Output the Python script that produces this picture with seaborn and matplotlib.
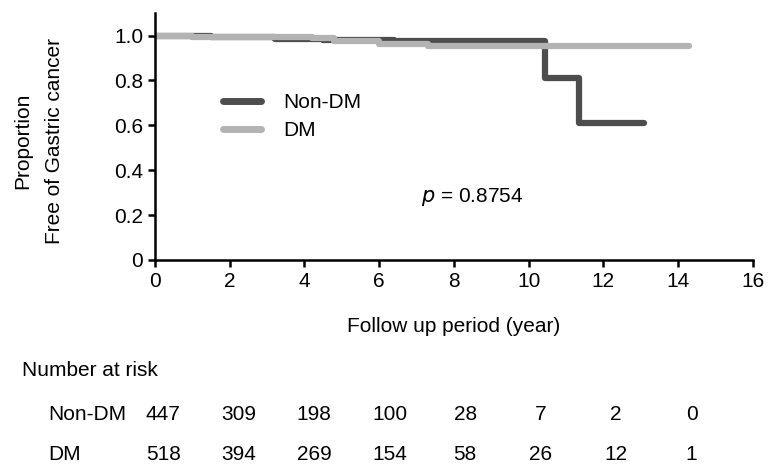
import matplotlib
matplotlib.use('Agg')
import matplotlib.pyplot as plt
import matplotlib.transforms as mtransforms
from matplotlib.lines import Line2D
import seaborn as sns
import pandas as pd

# Kaplan-Meier step curves
nondm_time = [0, 1.5, 3.2, 4.5, 6.4, 10.45, 11.35, 13.1]
nondm_surv = [1.0, 0.993, 0.985, 0.980, 0.974, 0.81, 0.61, 0.61]
dm_time = [0, 1.0, 4.2, 4.8, 6.0, 7.3, 14.3]
dm_surv = [1.0, 0.995, 0.99, 0.975, 0.964, 0.955, 0.955]

risk_times = [0, 2, 4, 6, 8, 10, 12, 14]
risk_nondm = [447, 309, 198, 100, 28, 7, 2, 0]
risk_dm = [518, 394, 269, 154, 58, 26, 12, 1]

x_ticks = [0, 2, 4, 6, 8, 10, 12, 14, 16]
y_ticks = [0, 0.2, 0.4, 0.6, 0.8, 1.0]
y_ticklabels = ['0', '0.2', '0.4', '0.6', '0.8', '1.0']

sns.set_style('ticks')
plt.rcParams['font.family'] = ['Liberation Sans', 'DejaVu Sans']
plt.rcParams['text.color'] = 'black'
plt.rcParams['axes.labelcolor'] = 'black'
plt.rcParams['xtick.color'] = 'black'
plt.rcParams['ytick.color'] = 'black'

FS = 15

df = pd.concat([
    pd.DataFrame({'time': nondm_time, 'surv': nondm_surv, 'group': 'Non-DM'}),
    pd.DataFrame({'time': dm_time, 'surv': dm_surv, 'group': 'DM'}),
])

fig = plt.figure(figsize=(7.69, 4.65), dpi=100)
ax = fig.add_axes([0.2016, 0.4409, 0.7774, 0.531])

palette = {'Non-DM': '#4d4d4d', 'DM': '#b3b3b3'}
sns.lineplot(data=df, x='time', y='surv', hue='group', palette=palette,
             drawstyle='steps-post', linewidth=4.5, estimator=None,
             sort=False, ax=ax, legend=False)

ax.set_xlim(0, 16)
ax.set_ylim(0, 1.1)
ax.set_xticks(x_ticks)
ax.set_yticks(y_ticks)
ax.set_yticklabels(y_ticklabels)
ax.tick_params(axis='both', labelsize=FS, width=1.8, length=5, color='black')
for side in ['left', 'bottom']:
    ax.spines[side].set_linewidth(1.8)
    ax.spines[side].set_color('black')
sns.despine(ax=ax)

ax.set_xlabel('Follow up period (year)', fontsize=FS, labelpad=19)
ax.set_ylabel('')
# two-line y label with wide line spacing, as in the original
fig.text(39 / 769, 1 - 141 / 465, 'Proportion\nFree of Gastric cancer',
         rotation=90, ha='center', va='center', multialignment='center',
         fontsize=FS, linespacing=1.85)

handles = [Line2D([0], [0], color=palette['Non-DM'], lw=5),
           Line2D([0], [0], color=palette['DM'], lw=5)]
ax.legend(handles, ['Non-DM', 'DM'], loc='upper left',
          bbox_to_anchor=(0.1, 0.71), frameon=False, fontsize=FS,
          handlelength=1.8, handletextpad=1.1, labelspacing=0.45,
          borderaxespad=0)

ax.text(8.5, 0.28, r'$p$ = 0.8754', fontsize=FS, ha='center', va='center')

# number at risk table
trans = mtransforms.blended_transform_factory(ax.transData, fig.transFigure)
fig.text(22 / 769, 1 - 370 / 465, 'Number at risk', fontsize=FS, va='center')
fig.text(48 / 769, 1 - 414 / 465, 'Non-DM', fontsize=FS, va='center')
fig.text(48 / 769, 1 - 454 / 465, 'DM', fontsize=FS, va='center')
for t, a, b in zip(risk_times, risk_nondm, risk_dm):
    ax.text(t * 1.01 + 0.22, 1 - 414 / 465, str(a), transform=trans,
            fontsize=FS, ha='center', va='center', clip_on=False)
    ax.text(t * 1.01 + 0.22, 1 - 454 / 465, str(b), transform=trans,
            fontsize=FS, ha='center', va='center', clip_on=False)

fig.savefig('out.png', dpi=100)
